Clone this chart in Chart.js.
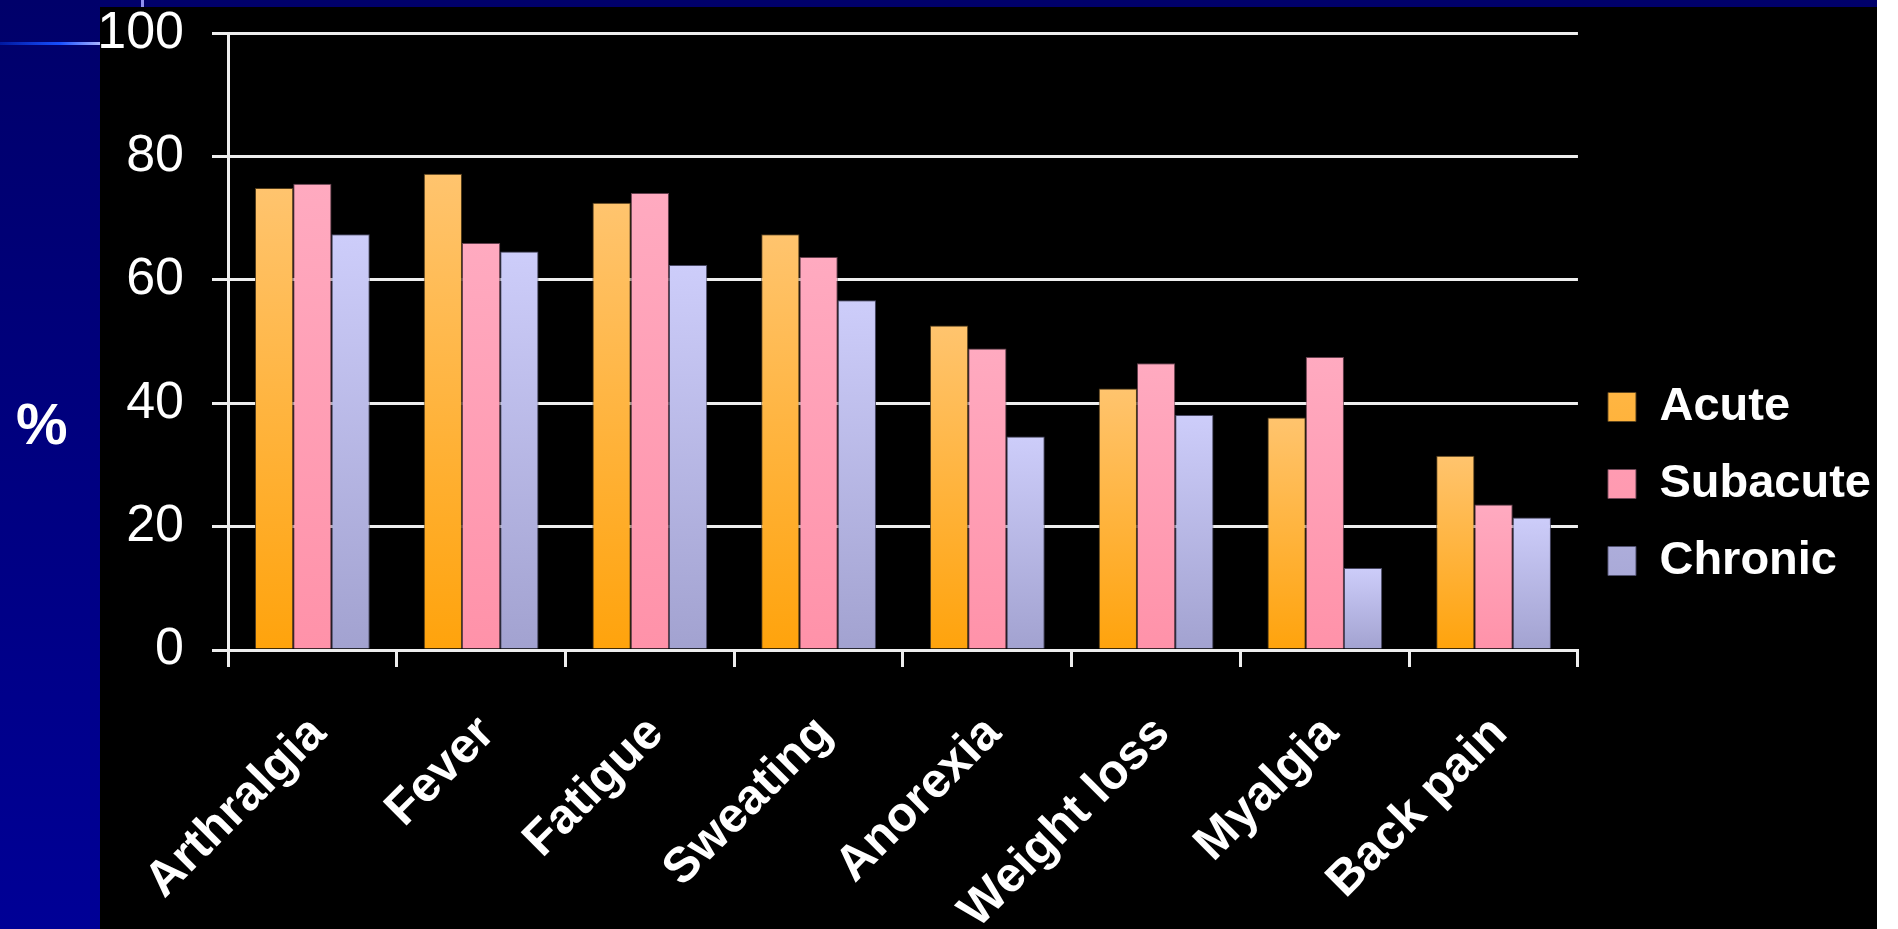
<!DOCTYPE html>
<html>
<head>
<meta charset="utf-8">
<script src="https://cdn.jsdelivr.net/npm/chart.js@4.4.1/dist/chart.umd.min.js"></script>
<style>
  body { margin: 0; width: 1898px; height: 929px; overflow: hidden; position: relative;
         background: linear-gradient(#00006a, #000096); font-family: 'Liberation Sans', Arial, sans-serif; }
  #panel { position: absolute; left: 100px; top: 7px; width: 1777px; height: 922px; background: #000; }
  #edge { position: absolute; left: 1877px; top: 0; width: 21px; height: 929px; background: #fff; }
  #rule { position: absolute; left: 0; top: 42px; width: 100px; height: 3px;
          background: linear-gradient(to right, #0018a0, #1850ff 60%, #a8b4ff); }
  #mark { position: absolute; left: 141px; top: 0; width: 3px; height: 7px; background: #9090f0; }
  #pct { position: absolute; left: 16px; top: 390px; color: #fff; font-weight: bold; font-size: 58px; }
  #chart { position: absolute; left: 0; top: 0; }
</style>
</head>
<body>
<div id="panel"></div>
<div id="edge"></div>
<div id="rule"></div>
<div id="mark"></div>
<div id="pct">%</div>
<canvas id="chart" width="1898" height="929"></canvas>
<script>
// symptoms
var labels = ['Arthralgia', 'Fever', 'Fatigue', 'Sweating', 'Anorexia', 'Weight loss', 'Myalgia', 'Back pain'];
var acute = [74.9, 77.2, 72.5, 67.4, 52.6, 42.4, 37.7, 31.5];
var subacute = [75.6, 66.0, 74.1, 63.7, 48.9, 46.5, 47.5, 23.6];
var chronic = [67.4, 64.6, 62.4, 56.7, 34.6, 38.1, 13.3, 21.5];
var yTicks = [0, 20, 40, 60, 80, 100];

// vertical gradient per bar, light on top
function grad(top, bottom, solid) {
    return function (c) {
        if (c.type !== 'data' || !c.chart.chartArea) return solid;
        var y = c.chart.scales.y;
        var y0 = y.getPixelForValue(c.raw);
        var y1 = y.getPixelForValue(0);
        var g = c.chart.ctx.createLinearGradient(0, y0, 0, y1);
        g.addColorStop(0, top);
        g.addColorStop(1, bottom);
        return g;
    }
}

var white = '#eeeeee';

var ctx = document.getElementById('chart');
window.myChart = new Chart(ctx, {
    type: 'bar',
    data: {
        labels: labels,
        datasets: [{
            label: 'Acute',
            data: acute,
            backgroundColor: grad('#ffc46e', '#ffa30c', '#ffb440'),
            borderColor: 'rgba(90,66,30,0.9)',
            borderWidth: 1
        }, {
            label: 'Subacute',
            data: subacute,
            backgroundColor: grad('#ffaac0', '#ff92a9', '#ff9eb4'),
            borderColor: 'rgba(110,70,85,0.9)',
            borderWidth: 1
        }, {
            label: 'Chronic',
            data: chronic,
            backgroundColor: grad('#cdcdfa', '#a2a2d0', '#b6b6e6'),
            borderColor: 'rgba(80,80,110,0.9)',
            borderWidth: 1
        }]
    },
    options: {
        responsive: false,
        animation: false,
        categoryPercentage: 0.68,
        barPercentage: 1,
        layout: {
            padding: { left: 100, top: 29, right: 17, bottom: -10 }
        },
        plugins: {
            tooltip: { enabled: false },
            legend: {
                position: 'right',
                align: 'center',
                labels: {
                    color: '#fff',
                    font: { family: "'Liberation Sans', Arial, sans-serif", size: 47, weight: 'bold' },
                    boxWidth: 28,
                    boxHeight: 29,
                    padding: 30
                }
            }
        },
        scales: {
            x: {
                grid: {
                    drawOnChartArea: false,
                    drawTicks: true,
                    tickLength: 17,
                    color: white,
                    lineWidth: 3
                },
                border: { color: white, width: 3 },
                ticks: {
                    color: '#fff',
                    minRotation: 45,
                    maxRotation: 45,
                    padding: 38,
                    labelOffset: 6,
                    autoSkip: false,
                    font: { family: "'Liberation Sans', Arial, sans-serif", size: 49, weight: 'bold' }
                },
                afterFit: function (scale) {
                    scale.height = 289;
                }
            },
            y: {
                min: 0,
                max: 100,
                grid: {
                    color: white,
                    lineWidth: 3,
                    tickLength: 16
                },
                border: { color: white, width: 3 },
                ticks: {
                    color: '#fff',
                    padding: 28,
                    stepSize: 20,
                    font: { family: "'Liberation Sans', Arial, sans-serif", size: 52, lineHeight: 0.2 }
                },
                afterBuildTicks: function (scale) {
                    scale.ticks = yTicks.map(function (v) { return { value: v } });
                },
                afterFit: function (scale) {
                    scale.width = 128;
                }
            }
        }
    }
});
</script>
</body>
</html>
